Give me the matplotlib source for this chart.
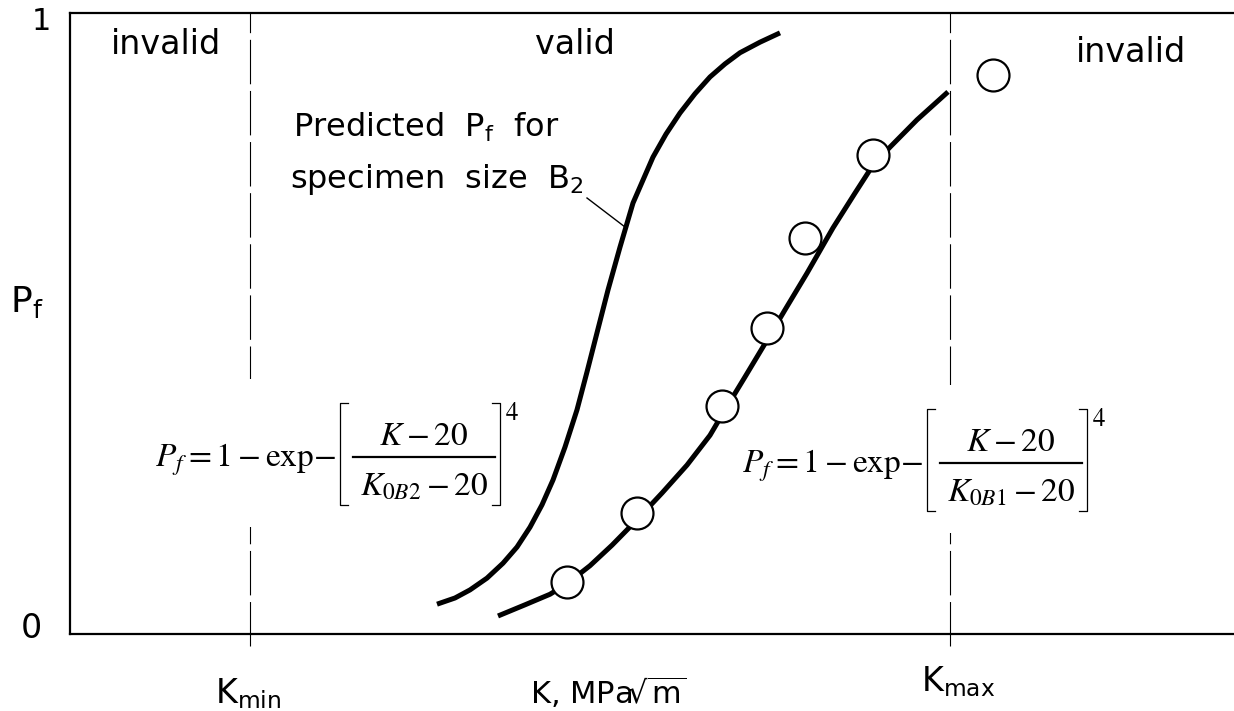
import matplotlib
matplotlib.use("Agg")
import matplotlib.pyplot as plt
from matplotlib.patches import Rectangle
from matplotlib.lines import Line2D

# ---- data (K in arbitrary units, Pf in 0..1) ----
k_b2_curve = [36.7, 38.5, 40.0, 41.7, 43.3, 44.7, 46.0, 47.2, 48.3, 49.5, 50.7, 51.7, 52.7, 53.8,
              55.0, 56.3, 58.3, 59.6, 61.0, 62.5, 64.0, 65.5, 67.0, 69.0, 71.0]
pf_b2_curve = [0.048, 0.058, 0.071, 0.090, 0.114, 0.140, 0.172, 0.208, 0.248, 0.301, 0.361, 0.422, 0.485, 0.554,
               0.623, 0.694, 0.768, 0.805, 0.839, 0.870, 0.897, 0.918, 0.936, 0.953, 0.968]

k_b1_curve = [42.8, 45.5, 48.0, 49.7, 52.0, 54.2, 56.7, 59.2, 61.7, 64.0, 65.5, 67.5, 69.7,
              71.5, 73.7, 76.3, 78.5, 80.3, 82.0, 84.7, 87.8]
pf_b1_curve = [0.029, 0.047, 0.064, 0.081, 0.110, 0.143, 0.184, 0.227, 0.272, 0.320, 0.361, 0.414, 0.473,
               0.522, 0.581, 0.654, 0.710, 0.755, 0.784, 0.828, 0.873]

k_points = [49.7, 56.7, 65.2, 69.7, 73.5, 80.3, 92.3]
pf_points = [0.084, 0.195, 0.367, 0.493, 0.638, 0.771, 0.900]

k_min = 18.0
k_max = 88.0
y_tick_labels = ["0", "1"]

SANS = "DejaVu Sans"
W, H = 1234, 711


def F(px, py):
    """figure-pixel (from top-left) -> figure fraction"""
    return px / W, 1 - py / H


fig = plt.figure(figsize=(W / 100, H / 100), dpi=100)
ax = fig.add_axes([70 / W, (H - 634) / H, 1164 / W, 621 / H])
ax.set_xlim(0, 116.4)
ax.set_ylim(0, 1)
ax.spines["right"].set_visible(False)
for s in ("left", "top", "bottom"):
    ax.spines[s].set_linewidth(1.6)
ax.set_xticks([])
ax.set_yticks([])

# dashed validity limits
for k in (k_min, k_max):
    ax.plot([k, k], [-0.019, 1.0], color="black", lw=0.8,
            linestyle=(0, (40, 6)), clip_on=False, zorder=1)

# curves
ax.plot(k_b2_curve, pf_b2_curve, color="black", lw=3.6, solid_capstyle="butt",
        solid_joinstyle="round", zorder=3)
ax.plot(k_b1_curve, pf_b1_curve, color="black", lw=3.6, solid_capstyle="butt",
        solid_joinstyle="round", zorder=3)
ax.plot(k_points, pf_points, linestyle="none", marker="o", markersize=23,
        markerfacecolor="white", markeredgecolor="black", markeredgewidth=1.6,
        clip_on=False, zorder=4)

# y tick labels and y label
fig.text(*F(41, 22), y_tick_labels[1], fontsize=22, family=SANS, ha="center", va="center")
fig.text(*F(31, 628), y_tick_labels[0], fontsize=24, family=SANS, ha="center", va="center")
fig.text(*F(10, 312), r"P$_\mathrm{f}$", fontsize=26, family=SANS, ha="left", va="baseline",
         math_fontfamily="dejavusans")

# x labels
fig.text(*F(248, 703), r"K$_\mathrm{min}$", fontsize=24, family=SANS, ha="center",
         va="baseline", math_fontfamily="dejavusans")
fig.text(*F(958, 691), r"K$_\mathrm{max}$", fontsize=24, family=SANS, ha="center",
         va="baseline", math_fontfamily="dejavusans")
fig.text(*F(608, 704), r"K, MPa$\!\sqrt{\mathrm{m}}$", fontsize=22, family=SANS, ha="center",
         va="baseline", math_fontfamily="dejavusans")

# region labels
fig.text(*F(166, 45), "invalid", fontsize=24, family=SANS, ha="center", va="center")
fig.text(*F(575, 45), "valid", fontsize=24, family=SANS, ha="center", va="center")
fig.text(*F(1131, 52), "invalid", fontsize=24, family=SANS, ha="center", va="center")

# annotation for B2 curve
fig.text(*F(560, 137), "Predicted  P$_\\mathrm{f}$  for", fontsize=23, family=SANS,
         ha="right", va="baseline", math_fontfamily="dejavusans")
fig.text(*F(583, 188), "specimen  size  B$_\\mathrm{2}$", fontsize=23, family=SANS,
         ha="right", va="baseline", math_fontfamily="dejavusans")
fig.add_artist(Line2D([F(587, 198)[0], F(625, 227)[0]], [F(587, 198)[1], F(625, 227)[1]],
                      transform=fig.transFigure, color="black", lw=1.0))


def equation(x0, ybar, sub):
    # white backing inside the axes: hides the dashed limit lines, stays under the curves
    ax.add_patch(Rectangle(F(x0 - 2, ybar + 70), 372 / W, 148 / H,
                           transform=fig.transFigure, facecolor="white",
                           edgecolor="none", zorder=2, clip_on=False))
    kw = dict(fontsize=24, math_fontfamily="stix", zorder=4)
    fig.text(*F(x0, ybar + 10), r"$P_f = 1 - \mathrm{exp}{-}$", ha="left", va="baseline", **kw)
    fig.text(*F(x0 + 269, ybar - 12), r"$K - 20$", ha="center", va="baseline", **kw)
    fig.text(*F(x0 + 269, ybar + 38), r"$K_{0" + sub + r"} - 20$", ha="center", va="baseline", **kw)
    fig.text(*F(x0 + 350, ybar - 37), r"$4$", ha="left", va="baseline", fontsize=18,
             math_fontfamily="stix", zorder=4)
    lk = dict(transform=fig.transFigure, color="black", zorder=4)
    # fraction bar
    a, b = F(x0 + 198, ybar), F(x0 + 340, ybar)
    fig.add_artist(Line2D([a[0], b[0]], [a[1], b[1]], lw=1.6, **lk))
    # brackets
    for xb, sgn in ((x0 + 185, 1), (x0 + 345, -1)):
        p1, p2 = F(xb + sgn * 8, ybar - 54), F(xb, ybar - 54)
        p3, p4 = F(xb, ybar + 48), F(xb + sgn * 8, ybar + 48)
        fig.add_artist(Line2D([p1[0], p2[0], p3[0], p4[0]], [p1[1], p2[1], p3[1], p4[1]],
                              lw=0.9, **lk))


equation(155, 457, "B2")
equation(742, 463, "B1")

fig.savefig("out.png", dpi=100)
